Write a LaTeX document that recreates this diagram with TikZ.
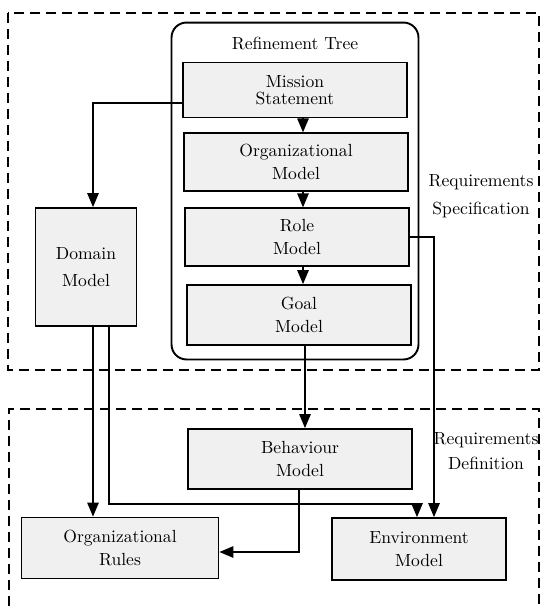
\documentclass[tikz,border=0pt]{standalone}
\usepackage{tikz}
\usetikzlibrary{arrows}
\usetikzlibrary{calc}
\tikzstyle{model} = [draw, line width=1.1pt, fill=black!6, align=center, minimum width=4.48cm, minimum height=1.15cm, inner sep=2pt, font=\fontsize{10}{13}\selectfont]
\tikzstyle{tree} = [draw, line width=1.1pt, rounded corners=0.3cm, minimum width=4.94cm, minimum height=6.74cm]
\tikzstyle{layer} = [line width=0.9pt, dash pattern=on 0.2cm off 0.12cm]
\tikzstyle{link} = [-triangle 45, line width=0.8pt]
\tikzstyle{caption} = [align=center, font=\fontsize{10}{13}\selectfont]

\begin{document}
\begin{tikzpicture}[x=0.02cm, y=-0.02cm]
	\useasboundingbox (0,0) rectangle (542,606);
	
	% the two layers
	\draw[layer] (8,13) rectangle (539,370);
	\draw[layer] (9,606) |- (539,409) -- (539,606);
	
	\node[caption] (spec) at (481,196) {Requirements\\[3pt]Specification};
	\node[caption] (defn) at (486,451) {Requirements\\[1pt]Definition};
	
	% refinement tree
	\node[tree] (tree) at (295,191) {};
	\node[caption] (title) at (295,43) {Refinement Tree};
	
	\node[model, minimum height=1.10cm] (mission) at (295,90) {Mission\\[-3pt]Statement};
	\node[model] (orgmodel) at (296,162) {Organizational\\Model};
	\node[model] (role) at (297,237) {Role\\Model};
	\node[model, minimum height=1.2cm] (goal) at (299,315) {Goal\\Model};
	
	\node[model, minimum width=2.02cm, minimum height=2.36cm] (domain) at (86,267) {Domain\\[2pt]Model};
	
	\node[model, minimum height=1.2cm] (behaviour) at (300,459) {Behaviour\\Model};
	\node[model, minimum width=3.94cm, minimum height=1.22cm] (orgrules) at (120,548) {Organizational\\Rules};
	\node[model, minimum width=3.48cm, minimum height=1.24cm] (envmodel) at (419,549) {Environment\\Model};
	
	% columns and rows of the connectors
	\coordinate (ax) at (303,0);
	\coordinate (bx) at (305,0);
	\coordinate (bl) at (299,0);
	\coordinate (dl) at (93,0);
	\coordinate (dr) at (109,0);
	\coordinate (el) at (417,0);
	\coordinate (er) at (434,0);
	\coordinate (mrow) at (0,103);
	\coordinate (drow) at (0,504);
	\coordinate (brow) at (0,552);
	
	\draw[link] (mission.south -| ax) -- (orgmodel.north -| ax);
	\draw[link] (orgmodel.south -| ax) -- (role.north -| ax);
	\draw[link] (role.south -| ax) -- (goal.north -| ax);
	\draw[link] (goal.south -| bx) -- (behaviour.north -| bx);
	
	\draw[link] (mission.west |- mrow) -| (domain.north -| dl);
	\draw[link] (domain.south -| dl) -- (orgrules.north -| dl);
	\draw[link] (domain.south -| dr) |- (el |- drow) -- (envmodel.north -| el);
	\draw[link] (role.east) -| (envmodel.north -| er);
	\draw[link] (behaviour.south -| bl) |- (orgrules.east |- brow);
\end{tikzpicture}
\end{document}
